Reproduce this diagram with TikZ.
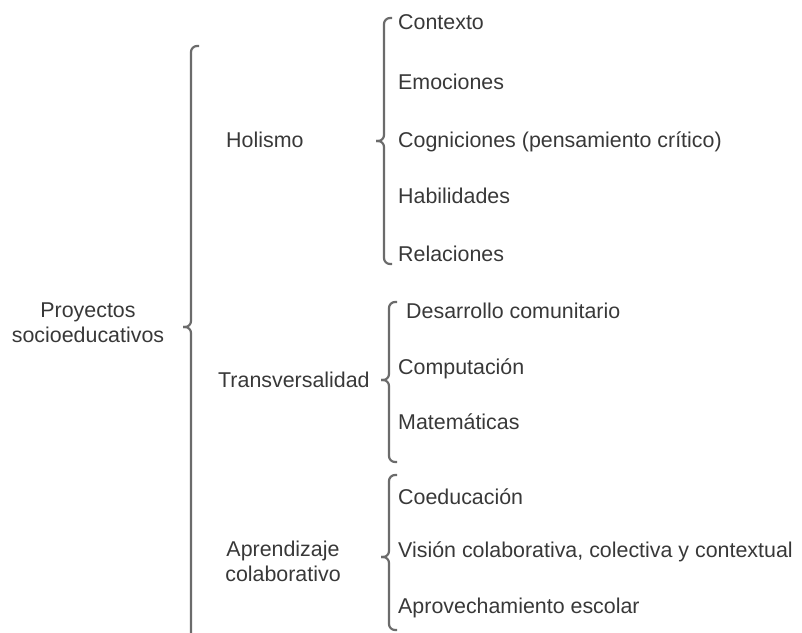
\documentclass[tikz,border=0pt]{standalone}
\usepackage{fontspec}
\setmainfont{Liberation Sans}
\definecolor{txt}{HTML}{383838}
\definecolor{brc}{HTML}{6B6B6B}
\begin{document}
\begin{tikzpicture}[x=1pt,y=-1pt,
  lbl/.style={anchor=west,inner sep=0pt,text=txt,font=\fontsize{21.4}{25}\selectfont,text height=15.3pt,text depth=0pt},
  clbl/.style={anchor=center,inner sep=0pt,text=txt,align=center,font=\fontsize{21.4}{25}\selectfont},
  brace/.style={draw=brc,line width=2.2pt,rounded corners=6pt}]
\useasboundingbox (0,0) rectangle (802,632);
% braces: x, top, tip, bottom
\newcommand{\mybrace}[4]{%
  \draw[brace] (#1+8,#2) -- (#1,#2) -- (#1,#3) -- (#1-8,#3);
  \draw[brace] (#1-8,#3) -- (#1,#3) -- (#1,#4) -- (#1+8,#4);}
\mybrace{191}{46}{327}{660}
\mybrace{384}{18}{141}{264}
\mybrace{389}{302}{380}{462}
\mybrace{389}{475}{557}{630}
% root
\node[clbl] (root) at (88,323) {Proyectos\\socioeducativos};
% level 1
\node[lbl] (hol) at (226,140) {Holismo};
\node[lbl] (tra) at (218,380) {Transversalidad};
\node[clbl] (apr) at (283,561) {Aprendizaje\\colaborativo};
% level 2
\node[lbl] (c1) at (398,22) {Contexto};
\node[lbl] (c2) at (398,82) {Emociones};
\node[lbl] (c3) at (398,140) {Cogniciones (pensamiento crítico)};
\node[lbl] (c4) at (398,196) {Habilidades};
\node[lbl] (c5) at (398,254) {Relaciones};
\node[lbl] (t1) at (406,311) {Desarrollo comunitario};
\node[lbl] (t2) at (398,367) {Computación};
\node[lbl] (t3) at (398,422) {Matemáticas};
\node[lbl] (a1) at (398,497) {Coeducación};
\node[lbl] (a2) at (398,550) {Visión colaborativa, colectiva y contextual};
\node[lbl] (a3) at (398,606) {Aprovechamiento escolar};
\end{tikzpicture}
\end{document}
